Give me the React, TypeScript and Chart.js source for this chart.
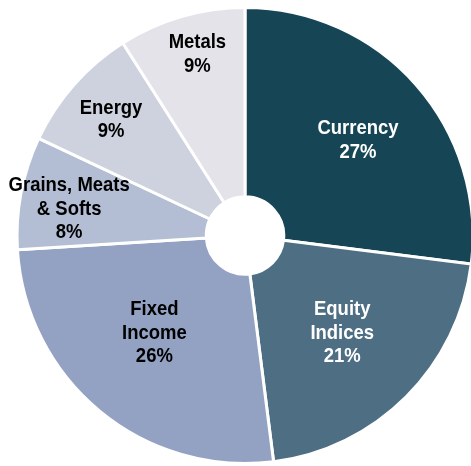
import React, { useEffect, useRef } from "react";
import { Chart, registerables } from "chart.js";

Chart.register(...registerables);

// ---- data ----
const categories: string[] = ["Currency", "Equity\nIndices", "Fixed\nIncome", "Grains, Meats\n& Softs", "Energy", "Metals"];
const shares: number[] = [27, 21, 26, 8, 9, 9];

// ---- styles ----
const sliceColors = ["#164656", "#4e6e84", "#93a2c3", "#b3bed4", "#cdd2de", "#e3e3e9"];
const textColors = ["#ffffff", "#ffffff", "#000000", "#000000", "#000000", "#000000"];
const labelRadius = [0.649, 0.603, 0.583, 0.78, 0.776, 0.823];
const labelAngleShift = [1.2, 0, 3.4, -2.2, -0.6, 1.5];

const labelPlugin = {
  id: "sliceLabels",
  afterDatasetsDraw(chart: any) {
    const ctx = chart.ctx;
    const meta = chart.getDatasetMeta(0);
    ctx.save();
    ctx.font = "bold 21px 'Liberation Sans', Arial, sans-serif";
    ctx.textAlign = "center";
    ctx.textBaseline = "middle";
    meta.data.forEach((arc: any, i: number) => {
      const p = arc.getProps(["x", "y", "startAngle", "endAngle", "outerRadius"], true);
      const mid = (p.startAngle + p.endAngle) / 2 + (labelAngleShift[i] * Math.PI) / 180;
      const r = p.outerRadius * labelRadius[i];
      const cx = p.x + Math.cos(mid) * r;
      const cy = p.y + Math.sin(mid) * r;
      const lines = [...chart.data.labels[i].split("\n"), `${chart.data.datasets[0].data[i]}%`];
      const lh = 23.5;
      const y0 = cy - ((lines.length - 1) * lh) / 2;
      ctx.fillStyle = textColors[i];
      lines.forEach((ln: string, k: number) => {
        ctx.save();
        ctx.translate(cx, y0 + k * lh);
        ctx.scale(0.88, 1);
        ctx.fillText(ln, 0, 0);
        ctx.restore();
      });
    });
    ctx.restore();
  },
};

export default function App() {
  const ref = useRef<HTMLCanvasElement | null>(null);
  useEffect(() => {
    if (!ref.current) return;
    const chart = new Chart(ref.current, {
      type: "doughnut",
      data: {
        labels: categories,
        datasets: [
          {
            data: shares,
            backgroundColor: sliceColors,
            borderColor: "#ffffff",
            borderWidth: 3,
          },
        ],
      },
      options: {
        responsive: false,
        animation: false,
        radius: 228,
        cutout: "17%",
        layout: { padding: { left: 19, right: 0, top: 5, bottom: 0 } },
        plugins: {
          legend: { display: false },
          tooltip: { enabled: false },
        },
      } as any,
      plugins: [labelPlugin],
    });
    return () => chart.destroy();
  }, []);
  return (
    <div style={{ position: "absolute", left: 0, top: 0, width: 471, height: 466, background: "#ffffff" }}>
      <canvas ref={ref} width={471} height={466} style={{ display: "block", width: 471, height: 466 }} />
    </div>
  );
}
